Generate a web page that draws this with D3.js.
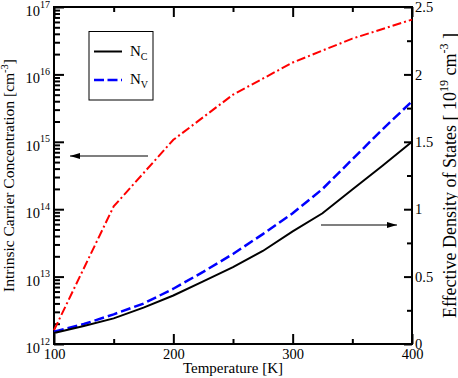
<!DOCTYPE html>
<html><head><meta charset="utf-8">
<script src="https://cdn.jsdelivr.net/npm/d3@7"></script>
<style>
html,body{margin:0;padding:0;background:#fff;}
svg text{font-family:"Liberation Serif","Times New Roman",Times,serif !important;}
</style></head>
<body>
<svg id="chart" width="458" height="378"></svg>
<script>
// ---- data ----
const tempsNi = [100, 150, 200, 250, 300, 350, 400];
const ni = [1.6e12, 1.1e14, 1.07e15, 5.0e15, 1.5e16, 3.4e16, 6.5e16];
const temps = [100,125,150,175,200,225,250,275,300,325,350,375,400];
const nc = [0.082,0.134,0.19,0.27,0.36,0.465,0.57,0.69,0.835,0.97,1.146,1.32,1.50];
const nv = [0.091,0.148,0.22,0.30,0.41,0.535,0.668,0.815,0.97,1.15,1.37,1.59,1.80];
const xMajor = [100,200,300,400];
const xMinor = [150,250,350];
const yLeftExp = [12,13,14,15,16,17];
const yRightMajor = [0,0.5,1,1.5,2,2.5];
const yRightLabels = ["0","0.5","1","1.5","2","2.5"];
const yRightMinor = [0.25,0.75,1.25,1.75,2.25];
const legendNames = ["C","V"];

// ---- layout ----
const L = 54, R = 412, T = 7, B = 344;
const svg = d3.select("#chart");
const x = d3.scaleLinear().domain([100,400]).range([L,R]);
const yL = d3.scaleLog().domain([1e12,1e17]).range([B,T]);
const yR = d3.scaleLinear().domain([0,2.5]).range([B,T]);

const leftMinor = [];
for (let e = 12; e < 17; e++) for (let m = 2; m <= 9; m++) leftMinor.push(m * Math.pow(10, e));

function styleAxis(g){
  g.attr("font-family",null);
  g.select(".domain").remove();
  g.selectAll(".tick line").attr("stroke","#000").attr("stroke-width",2);
  g.selectAll("text").attr("font-size",14.5).attr("fill","#000");
}

// bottom
svg.append("g").attr("transform",`translate(0,${B})`)
  .call(d3.axisBottom(x).tickValues(xMajor).tickSize(-10).tickPadding(5).tickFormat(d3.format("d"))).call(styleAxis);
svg.append("g").attr("transform",`translate(0,${B})`)
  .call(d3.axisBottom(x).tickValues(xMinor).tickSize(-5).tickFormat("")).call(styleAxis);
// top
svg.append("g").attr("transform",`translate(0,${T})`)
  .call(d3.axisTop(x).tickValues(xMajor).tickSize(-10).tickFormat("")).call(styleAxis);
svg.append("g").attr("transform",`translate(0,${T})`)
  .call(d3.axisTop(x).tickValues(xMinor).tickSize(-5).tickFormat("")).call(styleAxis);
// left
svg.append("g").attr("transform",`translate(${L},0)`)
  .call(d3.axisLeft(yL).tickValues(yLeftExp.map(e=>Math.pow(10,e))).tickSize(-10).tickFormat("")).call(styleAxis);
svg.append("g").attr("transform",`translate(${L},0)`)
  .call(d3.axisLeft(yL).tickValues(leftMinor).tickSize(-6).tickFormat("")).call(styleAxis);
// right
svg.append("g").attr("transform",`translate(${R},0)`)
  .call(d3.axisRight(yR).tickValues(yRightMajor).tickSize(-8).tickPadding(3).tickFormat((d,i)=>yRightLabels[i])).call(styleAxis);
svg.append("g").attr("transform",`translate(${R},0)`)
  .call(d3.axisRight(yR).tickValues(yRightMinor).tickSize(-5).tickFormat("")).call(styleAxis);

// left tick labels 10^n
const ll = svg.append("g");
yLeftExp.forEach(e=>{
  const t = ll.append("text").attr("x",50).attr("y",yL(Math.pow(10,e))+9)
    .attr("text-anchor","end").attr("font-size",14.5);
  t.append("tspan").text("10");
  t.append("tspan").attr("dy",-8.5).attr("font-size",10).text(String(e));
});

// frame
svg.append("rect").attr("x",L).attr("y",T).attr("width",R-L).attr("height",B-T)
  .attr("fill","none").attr("stroke","#000").attr("stroke-width",2);

// curves
const lineNi = d3.line().x((d,i)=>x(tempsNi[i])).y(d=>yL(d));
const lineR = d3.line().x((d,i)=>x(temps[i])).y(d=>yR(d));
svg.append("path").attr("d",lineNi(ni)).attr("fill","none").attr("stroke","#ff0000")
  .attr("stroke-width",2).attr("stroke-dasharray","9,3,2,3");
svg.append("path").attr("d",lineR(nv)).attr("fill","none").attr("stroke","#0000ff")
  .attr("stroke-width",2.5).attr("stroke-dasharray","10,4");
svg.append("path").attr("d",lineR(nc)).attr("fill","none").attr("stroke","#000")
  .attr("stroke-width",2);

// arrows
function arrow(x1,x2,y){
  svg.append("line").attr("x1",x1).attr("x2",x2).attr("y1",y).attr("y2",y)
    .attr("stroke","#000").attr("stroke-width",1.2);
  const dir = Math.sign(x2-x1);
  svg.append("path").attr("d",`M${x2},${y}L${x2-dir*10},${y-3}L${x2-dir*10},${y+3}Z`).attr("fill","#000");
}
arrow(148, 70, 156);
arrow(321, 397, 225);

// legend
const lg = svg.append("g");
lg.append("rect").attr("x",89).attr("y",31.5).attr("width",64).attr("height",68.5)
  .attr("fill","#fff").attr("stroke","#000").attr("stroke-width",1);
lg.append("line").attr("x1",94).attr("x2",122).attr("y1",51.5).attr("y2",51.5)
  .attr("stroke","#000").attr("stroke-width",2);
lg.append("line").attr("x1",94).attr("x2",122).attr("y1",80).attr("y2",80)
  .attr("stroke","#0000ff").attr("stroke-width",2.5).attr("stroke-dasharray","10,3.5");
[55.5, 83.5].forEach((yy,i)=>{
  const t = lg.append("text").attr("x",130).attr("y",yy).attr("font-size",15);
  t.append("tspan").text("N");
  t.append("tspan").attr("dy",4.5).attr("font-size",10).text(legendNames[i]);
});

// axis titles
svg.append("text").attr("x",(L+R)/2).attr("y",373).attr("text-anchor","middle")
  .attr("font-size",15).text("Temperature [K]");
const lt = svg.append("text").attr("transform",`translate(13.5,${(T+B)/2}) rotate(-90)`)
  .attr("text-anchor","middle").attr("font-size",15.5);
lt.append("tspan").text("Intrinsic Carrier Concentration [cm");
lt.append("tspan").attr("dy",-6).attr("font-size",10.5).text("-3");
lt.append("tspan").attr("dy",6).text("]");
const rt = svg.append("text").attr("transform",`translate(455.5,${(T+B)/2}) rotate(-90)`)
  .attr("text-anchor","middle").attr("font-size",18);
rt.append("tspan").text("Effective Density of States [ 10");
rt.append("tspan").attr("dy",-7.5).attr("font-size",12).text("19");
rt.append("tspan").attr("dy",7.5).text(" cm");
rt.append("tspan").attr("dy",-7.5).attr("font-size",12).text("-3");
rt.append("tspan").attr("dy",7.5).text(" ]");
</script>
</body></html>
